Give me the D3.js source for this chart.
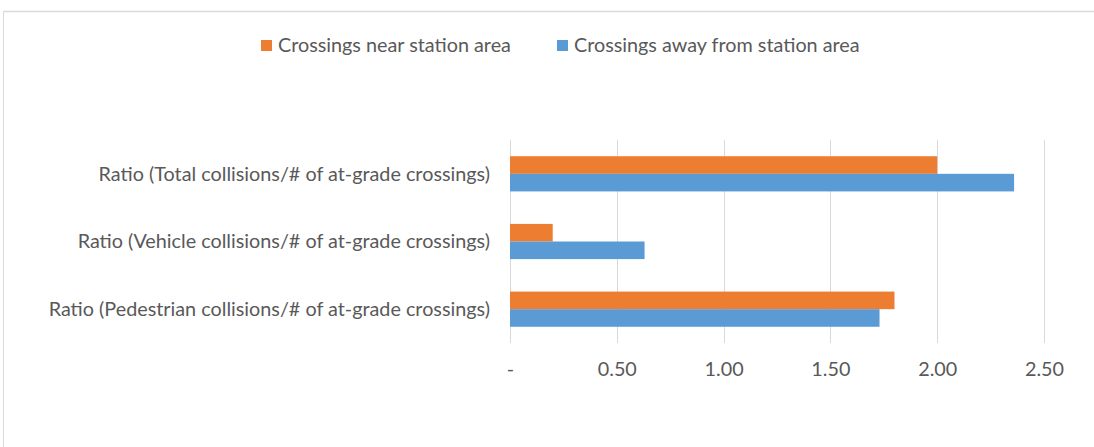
<!DOCTYPE html>
<html>
<head>
<meta charset="utf-8">
<script src="https://cdn.jsdelivr.net/npm/d3@7"></script>
<style>
  html, body { margin: 0; padding: 0; background: #fff; }
  svg { display: block; }
  text { font-family: Lato, "Open Sans", sans-serif; fill: #595959; }
</style>
</head>
<body>
<svg id="chart" width="1094" height="447"></svg>
<script>
// Collision ratios at at-grade crossings
const categories = [
  "Ratio (Total collisions/# of at-grade crossings)",
  "Ratio (Vehicle collisions/# of at-grade crossings)",
  "Ratio (Pedestrian collisions/# of at-grade crossings)"
];
const seriesNames = ["Crossings near station area", "Crossings away from station area"];
const nearStation = [2.00, 0.20, 1.80];
const awayStation = [2.36, 0.63, 1.73];
const tickValues = [0, 0.5, 1.0, 1.5, 2.0, 2.5];
const tickLabels = ["-", "0.50", "1.00", "1.50", "2.00", "2.50"];
const colors = ["#ED7D31", "#5B9BD5"];

const FONT = 19.8;
const svg = d3.select("#chart");

// chart frame
svg.append("line").attr("x1", 3.5).attr("x2", 1094).attr("y1", 11.5).attr("y2", 11.5)
  .attr("stroke", "#d9d9d9").attr("stroke-width", 1.5);
svg.append("line").attr("x1", 3.5).attr("x2", 3.5).attr("y1", 11.5).attr("y2", 447)
  .attr("stroke", "#d9d9d9").attr("stroke-width", 1);

const plot = { left: 510, right: 1044, top: 140, bottom: 343 };

const x = d3.scaleLinear().domain([0, 2.5]).range([plot.left, plot.right]);
const y = d3.scaleBand().domain(categories).range([plot.top, plot.bottom]).paddingInner(0.48).paddingOuter(0.24);
const ySub = d3.scaleBand().domain(seriesNames).range([0, y.bandwidth()]);

// vertical gridlines
svg.append("g").selectAll("line").data(tickValues).join("line")
  .attr("x1", d => Math.round(x(d)) + 0.5).attr("x2", d => Math.round(x(d)) + 0.5)
  .attr("y1", plot.top).attr("y2", plot.bottom)
  .attr("stroke", "#d9d9d9").attr("stroke-width", 1);

// bars
const series = [nearStation, awayStation];
series.forEach((vals, si) => {
  svg.append("g").selectAll("rect").data(categories).join("rect")
    .attr("x", x(0))
    .attr("y", (c) => y(c) + ySub(seriesNames[si]))
    .attr("width", (c, i) => x(vals[i]) - x(0))
    .attr("height", ySub.bandwidth())
    .attr("fill", colors[si]);
});

// x axis labels
const xAxis = d3.axisBottom(x).tickValues(tickValues)
  .tickFormat((d, i) => tickLabels[i]).tickSize(0).tickPadding(0);
const gx = svg.append("g").attr("transform", `translate(0, ${plot.bottom})`).call(xAxis);
gx.select(".domain").remove();
gx.selectAll("text").attr("font-size", FONT).style("font-family", "Lato, sans-serif")
  .attr("fill", "#595959").attr("y", 33).attr("dy", 0);

// category labels
const yAxis = d3.axisLeft(y).tickSize(0).tickPadding(0);
const gy = svg.append("g").attr("transform", `translate(${plot.left - 20}, 0)`).call(yAxis);
gy.select(".domain").remove();
gy.selectAll("text").attr("font-size", FONT).style("font-family", "Lato, sans-serif")
  .attr("fill", "#595959").attr("dy", "0.35em");

// legend
const legendItems = [
  { name: seriesNames[0], color: colors[0], x: 261 },
  { name: seriesNames[1], color: colors[1], x: 557 }
];
const lg = svg.append("g");
legendItems.forEach(it => {
  lg.append("rect").attr("x", it.x).attr("y", 40).attr("width", 11).attr("height", 11).attr("fill", it.color);
  lg.append("text").attr("x", it.x + 17).attr("y", 52).attr("font-size", FONT).text(it.name);
});
</script>
</body>
</html>
